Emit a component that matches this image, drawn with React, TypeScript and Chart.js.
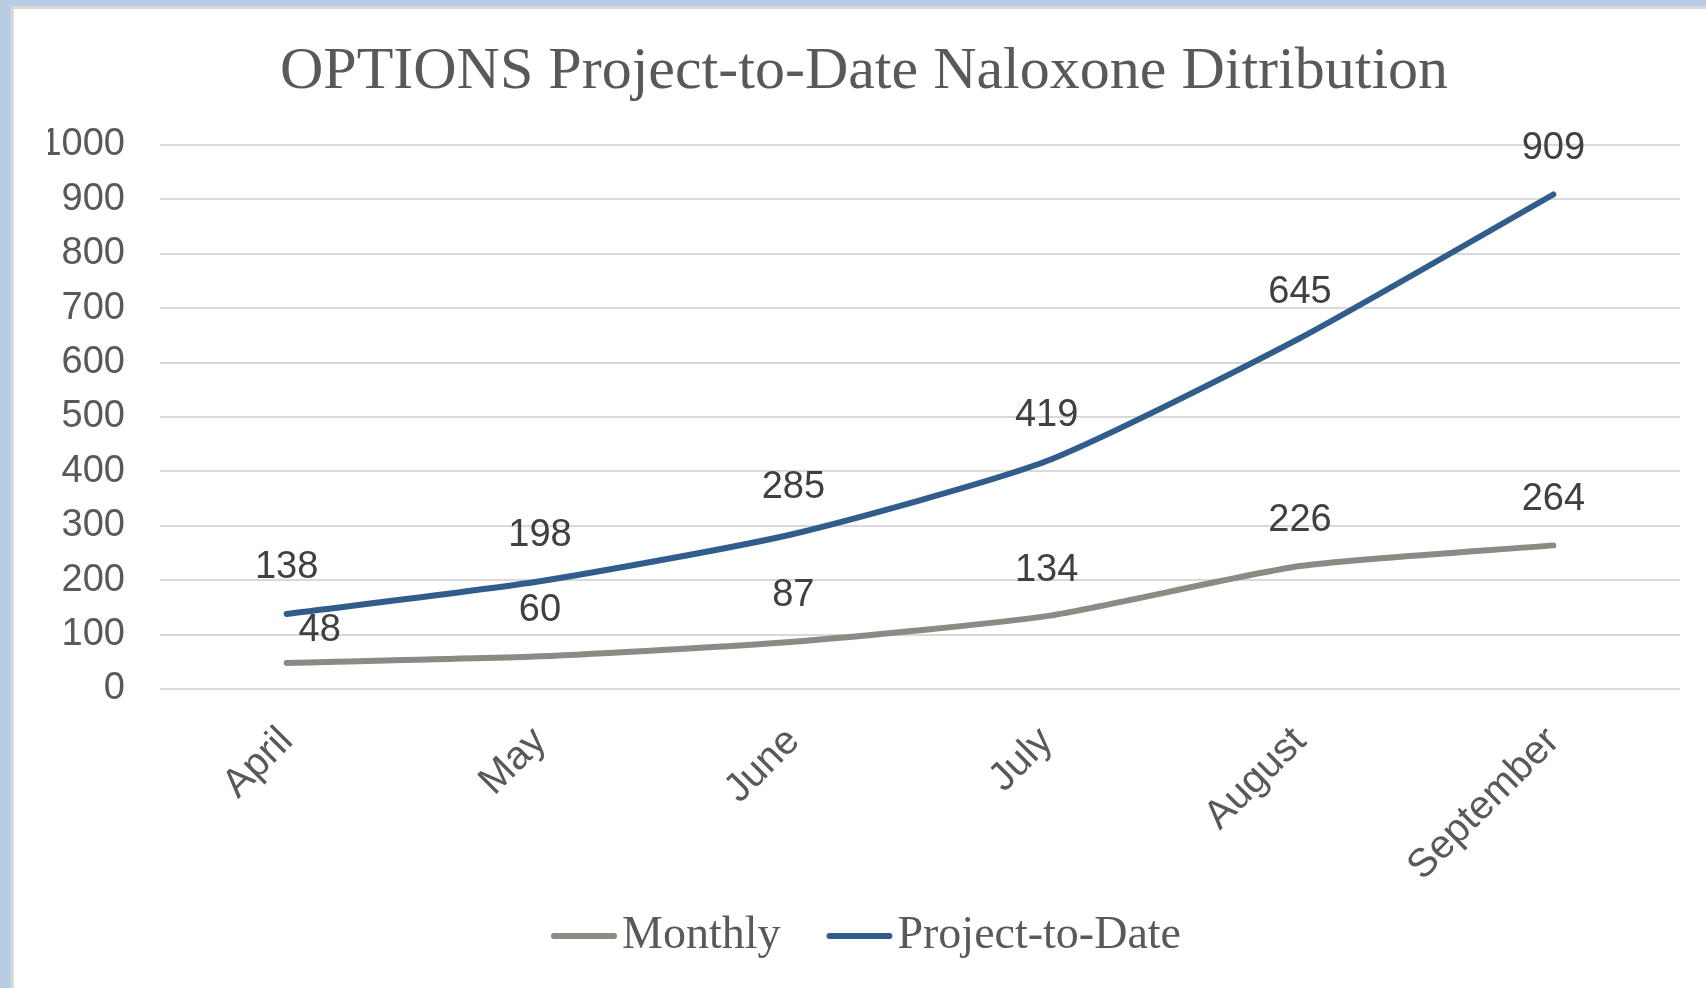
import React, { useEffect, useRef } from "react";
import { Chart, registerables } from "chart.js";

Chart.register(...registerables);

const months = ["April", "May", "June", "July", "August", "September"];
const monthly = [48, 60, 87, 134, 226, 264];
const projectToDate = [138, 198, 285, 419, 645, 909];
const seriesNames = ["Monthly", "Project-to-Date"];
const seriesColors = ["#8d8985", "#305d8c"];
const titleText = "OPTIONS Project-to-Date Naloxone Ditribution";
const yMin = 0;
const yMax = 1000;
const yStep = 100;

const SANS = "'Liberation Sans', Arial, sans-serif";
const SERIF = "'Liberation Serif', 'Times New Roman', serif";

const valueLabelPlugin = {
  id: "valueLabels",
  afterDatasetsDraw(chart: any) {
    const ctx = chart.ctx;
    ctx.save();
    ctx.font = `38px ${SANS}`;
    ctx.fillStyle = "#404040";
    ctx.textAlign = "center";
    ctx.textBaseline = "middle";
    const metas = chart.data.datasets.map((_: any, i: number) => chart.getDatasetMeta(i));
    chart.data.datasets.forEach((ds: any, di: number) => {
      const meta = metas[di];
      meta.data.forEach((pt: any, j: number) => {
        let x = pt.x;
        let y = pt.y - 46;
        // avoid collision with another series' point
        metas.forEach((m: any, k: number) => {
          if (k === di) return;
          const other = m.data[j];
          if (other && Math.abs(other.y - y) < 15) {
            x = pt.x + 33;
            y = pt.y - 32;
          }
        });
        ctx.fillText(String(ds.data[j]), x, y);
      });
    });
    ctx.restore();
  },
};

const lineLegendPlugin = {
  id: "lineLegend",
  afterDraw(chart: any) {
    const ctx = chart.ctx;
    ctx.save();
    ctx.font = `46px ${SERIF}`;
    const lineW = 66;
    const gap = 5;
    const itemGap = 46;
    const items = chart.data.datasets.map((ds: any) => ({
      label: ds.label,
      color: ds.borderColor,
      w: ctx.measureText(ds.label).width,
    }));
    const total =
      items.reduce((s: number, it: any) => s + lineW + gap + it.w, 0) + itemGap * (items.length - 1);
    let x = chart.width / 2 - total / 2 + 6;
    const y = chart.height - 52;
    items.forEach((it: any) => {
      ctx.strokeStyle = it.color;
      ctx.lineWidth = 6;
      ctx.lineCap = "round";
      ctx.beginPath();
      ctx.moveTo(x + 3, y);
      ctx.lineTo(x + lineW - 3, y);
      ctx.stroke();
      ctx.fillStyle = "#595959";
      ctx.textAlign = "left";
      ctx.textBaseline = "middle";
      ctx.fillText(it.label, x + lineW + gap, y);
      x += lineW + gap + it.w + itemGap;
    });
    ctx.restore();
  },
};

export default function App() {
  const canvasRef = useRef<HTMLCanvasElement | null>(null);

  useEffect(() => {
    if (!canvasRef.current) return;
    const chart = new Chart(canvasRef.current, {
      type: "line",
      data: {
        labels: months,
        datasets: [
          {
            label: seriesNames[0],
            data: monthly,
            borderColor: seriesColors[0],
            backgroundColor: seriesColors[0],
            borderWidth: 6,
            tension: 0.2,
            pointRadius: 0,
            borderCapStyle: "round",
            borderJoinStyle: "round",
          },
          {
            label: seriesNames[1],
            data: projectToDate,
            borderColor: seriesColors[1],
            backgroundColor: seriesColors[1],
            borderWidth: 6,
            tension: 0.2,
            pointRadius: 0,
            borderCapStyle: "round",
            borderJoinStyle: "round",
          },
        ],
      },
      options: {
        animation: false,
        responsive: true,
        maintainAspectRatio: false,
        layout: { padding: { left: 34, right: 26, top: 0, bottom: 0 } },
        plugins: {
          legend: { display: false },
          tooltip: { enabled: false },
          title: {
            display: true,
            text: titleText,
            color: "#595959",
            font: { family: SERIF, size: 60, weight: "normal" },
            padding: { top: 27, bottom: 37 },
          },
        },
        scales: {
          x: {
            offset: true,
            grid: { display: false, drawTicks: false },
            border: { display: false },
            ticks: {
              color: "#595959",
              font: { family: SANS, size: 40 },
              minRotation: 45,
              maxRotation: 45,
              padding: 29,
              autoSkip: false,
            },
            afterFit: (s: any) => {
              s.height = 299;
            },
          },
          y: {
            min: yMin,
            max: yMax,
            grid: { color: "#d9d9d9", lineWidth: 2, drawTicks: false },
            border: { display: false },
            ticks: {
              stepSize: yStep,
              color: "#595959",
              font: { family: SANS, size: 38 },
              padding: 35,
              callback: (v: any) => String(v),
            },
            afterFit: (s: any) => {
              s.width = 112;
            },
          },
        },
      },
      plugins: [valueLabelPlugin, lineLegendPlugin],
    });
    return () => chart.destroy();
  }, []);

  return (
    <div style={{ position: "fixed", inset: 0, background: "#b8cce4" }}>
      <div
        style={{
          position: "absolute",
          left: 11,
          top: 6,
          right: 0,
          bottom: 0,
          borderLeft: "3px solid #d9d9d9",
          borderTop: "3px solid #d9d9d9",
          background: "#ffffff",
        }}
      >
        <canvas ref={canvasRef} />
      </div>
    </div>
  );
}
